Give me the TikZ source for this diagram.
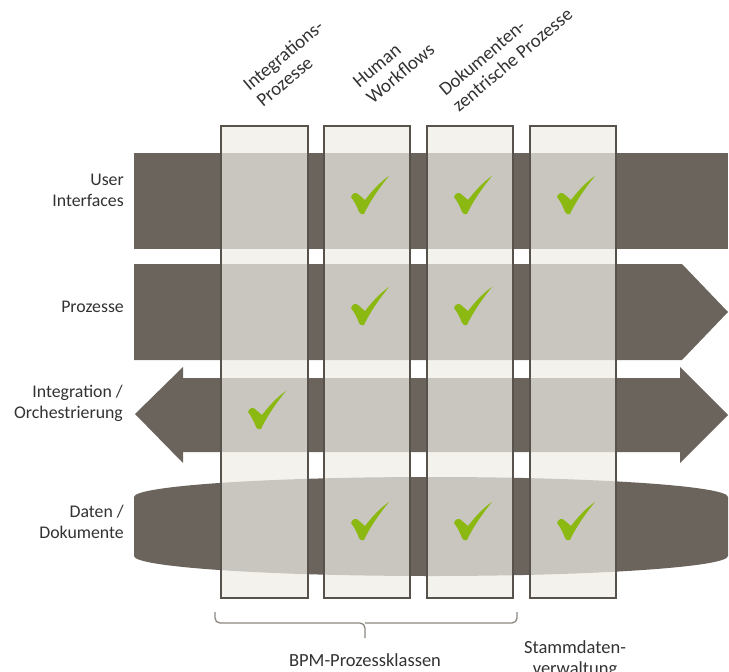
\documentclass[tikz,border=0pt]{standalone}
\usepackage{fontspec}
\setmainfont{Carlito}
\usepackage{tikz}

\definecolor{bandgray}{RGB}{107,100,93}
\definecolor{colcream}{RGB}{243,242,236}
\definecolor{colline}{RGB}{88,82,76}
\definecolor{chkgreen}{RGB}{140,184,18}
\definecolor{txtgray}{RGB}{50,50,50}
\definecolor{bracegray}{RGB}{140,135,128}

\tikzset{
	band/.style={fill=bandgray, draw=none},
	colbase/.style={fill=colcream, draw=none},
	colglass/.style={fill=colcream, fill opacity=0.69, draw=colline, line width=1.4pt},
	rowlabel/.style={text=txtgray, anchor=east, align=right, inner sep=0pt, font=\fontsize{17.8}{21}\selectfont},
	headlabel/.style={text=txtgray, anchor=west, align=left, rotate=40, inner sep=0pt, font=\fontsize{19}{21}\selectfont},
	sublabel/.style={text=txtgray, align=center, inner sep=0pt, font=\fontsize{18.5}{21}\selectfont},
	chkmark/.pic={
		\fill[chkgreen] (-19,2) .. controls (-18,-2) and (-14,-3) .. (-12,-1) -- (-5,5)
			.. controls (2,-4) and (10,-13) .. (19,-19)
			.. controls (10,-8) and (0,6) .. (-6,19)
			.. controls (-8,20) and (-10,19) .. (-11,17)
			.. controls (-13,11) and (-16,6) .. (-19,2) -- cycle;
	}
}

\begin{document}
\begin{tikzpicture}[x=1pt, y=-1pt]
	\useasboundingbox (0,0) rectangle (729,672);
	% columns, opaque base
	\fill[colbase] (221,126) rectangle (308,598);
	\fill[colbase] (324,126) rectangle (410,598);
	\fill[colbase] (427,126) rectangle (513,598);
	\fill[colbase] (530,126) rectangle (616,598);
	% bands
	\fill[band] (134,153) rectangle (728,249);
	\fill[band] (134,264) -- (682,264) -- (728,312) -- (682,360) -- (134,360) -- cycle;
	\fill[band] (135,414) -- (183,367) -- (183,378) -- (680,378) -- (680,367) -- (728,415)
		-- (680,463) -- (680,452) -- (183,452) -- (183,463) -- cycle;
	\fill[band] (134,497) .. controls (134,486) and (267,477) .. (431,477)
		.. controls (595,477) and (728,486) .. (728,497) -- (728,556)
		.. controls (728,567) and (595,576) .. (431,576)
		.. controls (267,576) and (134,567) .. (134,556) -- cycle;
	% columns, glass on top
	\filldraw[colglass] (221,126) rectangle (308,598);
	\filldraw[colglass] (324,126) rectangle (410,598);
	\filldraw[colglass] (427,126) rectangle (513,598);
	\filldraw[colglass] (530,126) rectangle (616,598);
	% check marks
	\pic at (370,195) {chkmark};
	\pic at (473,195) {chkmark};
	\pic at (576,195) {chkmark};
	\pic at (370,306) {chkmark};
	\pic at (473,306) {chkmark};
	\pic at (267,410) {chkmark};
	\pic at (370,521) {chkmark};
	\pic at (473,521) {chkmark};
	\pic at (576,521) {chkmark};
	% row labels
	\node[rowlabel] (lblui) at (124,190) {User\\Interfaces};
	\node[rowlabel] (lblproz) at (124,307) {Prozesse};
	\node[rowlabel] (lblint) at (123,403) {Integration /\\Orchestrierung};
	\node[rowlabel] (lbldaten) at (124,522) {Daten /\\Dokumente};
	% column headers
	\node[headlabel] (hdint) at (252,95) {Integrations-\\Prozesse};
	\node[headlabel] (hdhuman) at (362,92) {Human\\Workflows};
	\node[headlabel] (hddok) at (448,100) {Dokumenten-\\zentrische Prozesse};
	% brace and bottom labels
	\coordinate (bracemid) at (365,623);
	\coordinate (bracetip) at (365,638);
	\draw[bracegray, line width=1.3pt, rounded corners=5pt] (215,612) |- (bracemid) -- (bracetip);
	\draw[bracegray, line width=1.3pt, rounded corners=5pt] (517,612) |- (bracemid);
	\node[sublabel] (lblbpm) at (365,660) {BPM-Prozessklassen};
	\node[sublabel, anchor=north] (lblstamm) at (575,640) {Stammdaten-\\verwaltung};
\end{tikzpicture}
\end{document}
